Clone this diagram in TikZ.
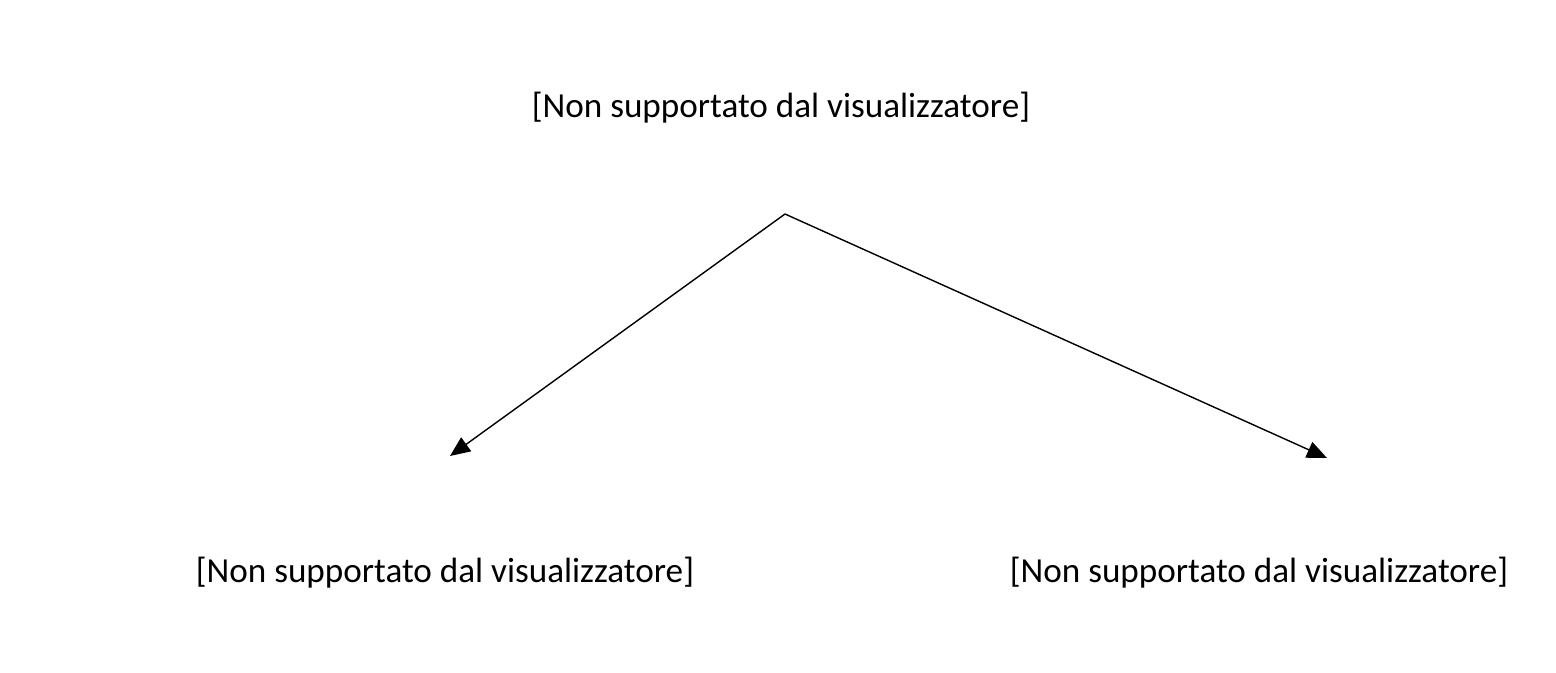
\documentclass[tikz,border=0pt]{standalone}
\usepackage{fontspec}
\setmainfont{Carlito}
\usetikzlibrary{arrows.meta,positioning}

\begin{document}
\begin{tikzpicture}
\tikzstyle{every node}=[font=\fontsize{10}{12}\selectfont,inner sep=0pt];
\tikzstyle{arrow}=[draw,thin,-{Triangle[length=0.2cm,width=0.17cm]}];

\useasboundingbox (0,0) rectangle (15.56,6.72);

\node (top) at (7.81,5.64) {[Non supportato dal visualizzatore]};
\node (left) at (4.45,0.99) {[Non supportato dal visualizzatore]};
\node (right) at (12.59,0.99) {[Non supportato dal visualizzatore]};

\coordinate (apex) at (7.85,4.58);
\coordinate (tipl) at (4.50,2.16);
\coordinate (tipr) at (13.27,2.14);
\path[arrow] (apex) -- (tipl);
\path[arrow] (apex) -- (tipr);
\end{tikzpicture}
\end{document}
